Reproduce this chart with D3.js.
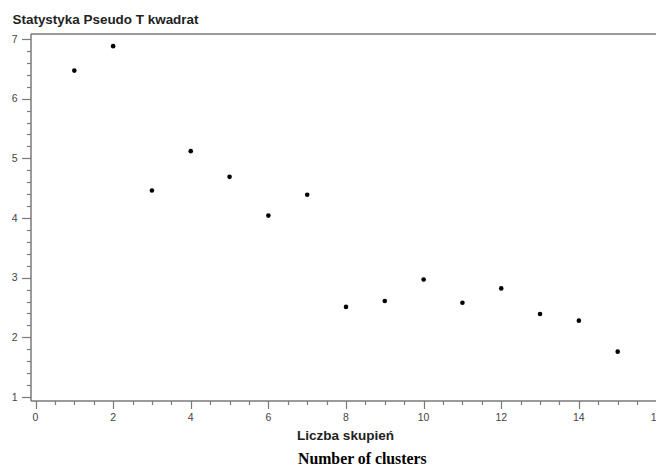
<!DOCTYPE html>
<html>
<head>
<meta charset="utf-8">
<script src="https://cdn.jsdelivr.net/npm/d3@7"></script>
<style>
  body { margin: 0; background: #fff; }
  svg { display: block; }
</style>
</head>
<body>
<div id="chart"></div>
<script>
let width = 656;
let height = 465;

// dane
let clusters = [1, 2, 3, 4, 5, 6, 7, 8, 9, 10, 11, 12, 13, 14, 15];
let pseudoT2 = [6.47, 6.88, 4.46, 5.12, 4.69, 4.04, 4.39, 2.51, 2.61, 2.97, 2.58, 2.82, 2.39, 2.28, 1.76];
let xTicks = [0, 2, 4, 6, 8, 10, 12, 14, 16];
let yTicks = [1, 2, 3, 4, 5, 6, 7];

let svg = d3.select("#chart").append("svg")
    .attr("width", width)
    .attr("height", height);

const x = d3.scaleLinear().domain([0, 16]).range([35.5, 656.5]);
const y = d3.scaleLinear().domain([1, 7]).range([397, 39]);

let frameLeft = 31, frameTop = 34, frameBottom = 401;
let axisColor = "#7a7a7a";
let textColor = "#444";
let sans = "Liberation Sans, Arial, sans-serif";

// ramka
svg.append("line")
    .attr("x1", frameLeft).attr("x2", width)
    .attr("y1", frameTop).attr("y2", frameTop)
    .attr("stroke", axisColor).attr("stroke-width", 1.5);

// oś Y
let yMinor = d3.range(1, 7.001, 0.2);
svg.append("g").selectAll("line")
    .data(yMinor)
    .enter().append("line")
    .attr("x1", d => Math.abs(d - Math.round(d)) < 0.01 ? frameLeft - 9 : frameLeft - 4)
    .attr("x2", frameLeft)
    .attr("y1", d => Math.round(y(d)) + 0.5)
    .attr("y2", d => Math.round(y(d)) + 0.5)
    .attr("stroke", axisColor).attr("stroke-width", 1.2);

svg.append("g").selectAll("text")
    .data(yTicks)
    .enter().append("text")
    .attr("x", 17.5)
    .attr("y", d => y(d) + 3.8)
    .attr("text-anchor", "end")
    .attr("font-family", sans)
    .attr("font-size", 10.5)
    .attr("fill", textColor)
    .text(d => d);

svg.append("line")
    .attr("x1", frameLeft).attr("x2", frameLeft)
    .attr("y1", frameTop).attr("y2", frameBottom)
    .attr("stroke", axisColor).attr("stroke-width", 1.5);

// oś X
let xMinor = d3.range(0, 16.001, 0.5);
svg.append("g").selectAll("line")
    .data(xMinor)
    .enter().append("line")
    .attr("x1", d => Math.round(x(d)) + 0.5)
    .attr("x2", d => Math.round(x(d)) + 0.5)
    .attr("y1", frameBottom)
    .attr("y2", d => d % 2 === 0 ? frameBottom + 8 : frameBottom + 4)
    .attr("stroke", axisColor).attr("stroke-width", 1.2);

svg.append("g").selectAll("text")
    .data(xTicks)
    .enter().append("text")
    .attr("x", d => x(d))
    .attr("y", 421)
    .attr("text-anchor", "middle")
    .attr("font-family", sans)
    .attr("font-size", 10.5)
    .attr("fill", textColor)
    .text(d => d);

svg.append("line")
    .attr("x1", frameLeft).attr("x2", width)
    .attr("y1", frameBottom).attr("y2", frameBottom)
    .attr("stroke", axisColor).attr("stroke-width", 1.5);

// punkty
svg.append("g").selectAll("circle")
    .data(clusters)
    .enter().append("circle")
    .attr("cx", (d, i) => x(d))
    .attr("cy", (d, i) => y(pseudoT2[i]))
    .attr("r", 2.3)
    .attr("fill", "#000");

// tytuły
svg.append("text")
    .attr("x", 12.5)
    .attr("y", 23.5)
    .attr("font-family", sans)
    .attr("font-size", 13)
    .attr("font-weight", "bold")
    .attr("fill", "#222")
    .attr("textLength", 186)
    .attr("lengthAdjust", "spacingAndGlyphs")
    .text("Statystyka Pseudo T kwadrat");

svg.append("text")
    .attr("x", 297)
    .attr("y", 440)
    .attr("font-family", sans)
    .attr("font-size", 13)
    .attr("font-weight", "bold")
    .attr("fill", "#222")
    .attr("textLength", 97)
    .attr("lengthAdjust", "spacingAndGlyphs")
    .text("Liczba skupień");

svg.append("text")
    .attr("x", 298)
    .attr("y", 464)
    .attr("font-family", "Liberation Serif, Times New Roman, serif")
    .attr("font-size", 15.8)
    .attr("font-weight", "bold")
    .attr("fill", "#000")
    .text("Number of clusters");
</script>
</body>
</html>
